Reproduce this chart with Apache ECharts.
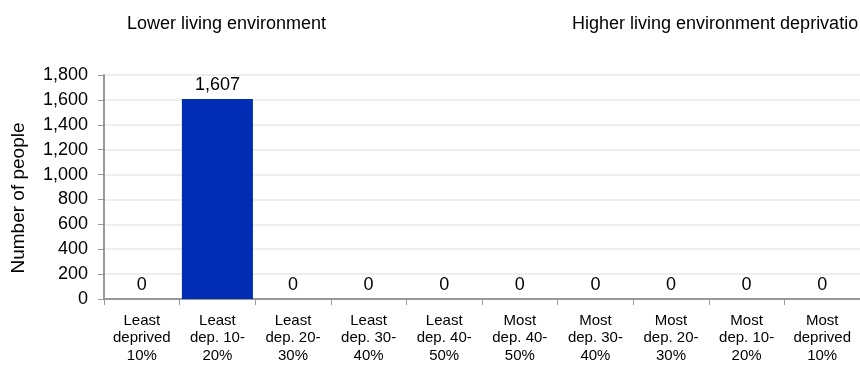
<!DOCTYPE html>
<html><head><meta charset="utf-8">
<script src="https://cdn.jsdelivr.net/npm/echarts@6/dist/echarts.min.js"></script>
<style>html,body{margin:0;padding:0;background:#fff}#c{width:860px;height:366px}</style>
</head><body><div id="c"></div>
<script>
const categories = ["Least\ndeprived\n10%","Least\ndep. 10-\n20%","Least\ndep. 20-\n30%","Least\ndep. 30-\n40%","Least\ndep. 40-\n50%","Most\ndep. 40-\n50%","Most\ndep. 30-\n40%","Most\ndep. 20-\n30%","Most\ndep. 10-\n20%","Most\ndeprived\n10%"];
const values = [0,1607,0,0,0,0,0,0,0,0];
const yMin = 0, yMax = 1800, yStep = 200;
const leftNote = "Lower living environment";
const rightNote = "Higher living environment deprivatio";
const yName = "Number of people";

const font = "'Liberation Sans', Arial, sans-serif";
const chart = echarts.init(document.getElementById('c'));
chart.setOption({
  animation:false,
  title:[
    {text:leftNote,left:122,top:10,textStyle:{fontFamily:font,fontSize:18,fontWeight:'normal',color:'#000'}},
    {text:rightNote,left:567,top:10,textStyle:{fontFamily:font,fontSize:18,fontWeight:'normal',color:'#000'}}
  ],
  grid:{left:104,right:0,top:75,bottom:67,containLabel:false,outerBoundsMode:'none'},
  xAxis:{type:'category',data:categories,
    axisLine:{lineStyle:{color:'#999',width:2}},
    axisTick:{show:true,length:6,lineStyle:{color:'#999',width:1}},
    axisLabel:{fontFamily:font,fontSize:15,color:'#000',lineHeight:17.5,margin:13,interval:0}},
  yAxis:{type:'value',min:yMin,max:yMax,interval:yStep,
    name:yName,nameLocation:'middle',nameGap:76,nameRotate:90,
    nameTextStyle:{fontFamily:font,fontSize:19,color:'#000',padding:[0,22,0,0]},
    axisLine:{show:true,lineStyle:{color:'#999',width:2}},
    axisTick:{show:true,length:6,lineStyle:{color:'#999'}},
    splitLine:{lineStyle:{color:'#eeeeee',width:2}},
    axisLabel:{fontFamily:font,fontSize:18,color:'#000',margin:16,
      formatter:v=>v.toLocaleString('en-US')}},
  series:[{type:'bar',data:values,barCategoryGap:'6%',
    itemStyle:{color:'#002db3'},
    label:{show:true,position:'top',distance:5,fontFamily:font,fontSize:18,color:'#000',
      formatter:p=>p.value.toLocaleString('en-US')}}]
});
</script></body></html>
